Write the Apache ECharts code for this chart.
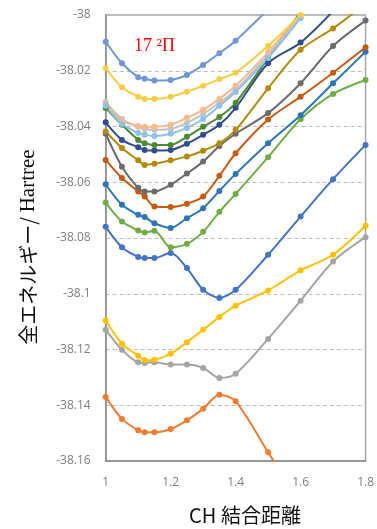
<!DOCTYPE html>
<html>
<head>
<meta charset="utf-8">
<script src="https://cdn.jsdelivr.net/npm/echarts@6/dist/echarts.min.js"></script>
<style>
  html, body { margin: 0; padding: 0; background: #fff; }
  #chart { width: 377px; height: 529px; }
</style>
</head>
<body>
<div id="chart"></div>
<script>
// CH bond length (Å) sampled for every state
const bondLengths = [1.0, 1.05, 1.1, 1.12, 1.15, 1.2, 1.25, 1.3, 1.35, 1.4, 1.5, 1.6, 1.7, 1.8];

// Total energies (Hartree) per electronic state; null where not computed
const stateOrange    = [-38.1370, -38.1449, -38.1490, -38.1497, -38.1497, -38.1485, -38.1454, -38.1413, -38.1362, -38.1386, -38.1569, -38.1750, null, null];
const stateGray      = [-38.1129, -38.1201, -38.1246, -38.1248, -38.1246, -38.1254, -38.1254, -38.1266, -38.1302, -38.1287, -38.1162, -38.1025, -38.0884, -38.0797];
const stateYellow    = [-38.1096, -38.1179, -38.1222, -38.1239, -38.1237, -38.1215, -38.1174, -38.1129, -38.1083, -38.1043, -38.0988, -38.0916, -38.0860, -38.0756];
const stateBlue      = [-38.0760, -38.0833, -38.0868, -38.0872, -38.0872, -38.0854, -38.0908, -38.0986, -38.1015, -38.0986, -38.0860, -38.0723, -38.0589, -38.0466];
const stateGreen     = [-38.0673, -38.0741, -38.0773, -38.0780, -38.0774, -38.0833, -38.0821, -38.0778, -38.0706, -38.0642, -38.0510, -38.0374, -38.0283, -38.0233];
const stateSteel     = [-38.0607, -38.0681, -38.0717, -38.0725, -38.0747, -38.0764, -38.0729, -38.0693, -38.0631, -38.0570, -38.0460, -38.0360, -38.0245, -38.0132];
const stateRust      = [-38.0520, -38.0585, -38.0633, -38.0651, -38.0687, -38.0689, -38.0677, -38.0651, -38.0577, -38.0496, -38.0375, -38.0293, -38.0207, -38.0116];
const stateDarkGray  = [-38.0426, -38.0544, -38.0620, -38.0633, -38.0633, -38.0609, -38.0569, -38.0526, -38.0470, -38.0426, -38.0352, -38.0245, -38.0111, -38.0020];
const stateOchre     = [-38.0418, -38.0477, -38.0521, -38.0538, -38.0534, -38.0521, -38.0508, -38.0487, -38.0460, -38.0412, -38.0263, -38.0125, -38.0048, -37.9960];
const stateNavy      = [-38.0385, -38.0448, -38.0474, -38.0484, -38.0486, -38.0484, -38.0462, -38.0430, -38.0394, -38.0333, -38.0173, -38.0099, -37.9986, null];
const stateDarkGreen = [-38.0334, -38.0394, -38.0448, -38.0460, -38.0466, -38.0466, -38.0437, -38.0401, -38.0366, -38.0315, -38.0154, -37.9989, null, null];
const stateSilver    = [-38.0312, -38.0373, -38.0401, -38.0409, -38.0412, -38.0409, -38.0387, -38.0355, -38.0315, -38.0269, -38.0143, -38.0007, null, null];
const statePeach     = [-38.0319, -38.0380, -38.0398, -38.0401, -38.0401, -38.0394, -38.0369, -38.0340, -38.0301, -38.0254, -38.0133, -37.9996, null, null];
const stateSky       = [-38.0326, -38.0391, -38.0423, -38.0430, -38.0434, -38.0426, -38.0405, -38.0373, -38.0326, -38.0276, -38.0154, -38.0011, null, null];
const stateGold      = [-38.0191, -38.0259, -38.0293, -38.0301, -38.0301, -38.0293, -38.0275, -38.0254, -38.0230, -38.0207, -38.0111, -38.0000, null, null];
const statePi17      = [-38.0096, -38.0173, -38.0223, -38.0229, -38.0235, -38.0233, -38.0215, -38.0179, -38.0137, -38.0092, -37.9980, null, null, null];

// Axis ticks
const xTicks = { min: 1, max: 1.8, step: 0.2 };
const yTicks = { min: -38.16, max: -38, step: 0.02 };

const curves = [
  { data: stateOrange,    color: '#ed7d31' },
  { data: stateGray,      color: '#a5a5a5' },
  { data: stateYellow,    color: '#ffc000' },
  { data: stateBlue,      color: '#4472c4' },
  { data: stateGreen,     color: '#70ad47' },
  { data: stateSteel,     color: '#2e75b6' },
  { data: stateRust,      color: '#c55a11' },
  { data: stateDarkGray,  color: '#6b6b6b' },
  { data: stateOchre,     color: '#b48a0a' },
  { data: stateNavy,      color: '#2f4f8f' },
  { data: stateDarkGreen, color: '#4e8a33' },
  { data: stateSilver,    color: '#c3c3c3' },
  { data: statePeach,     color: '#f4b98f' },
  { data: stateSky,       color: '#8ec0ea' },
  { data: stateGold,      color: '#f7cd45' },
  { data: statePi17,      color: '#6f96d8' }
];

const fmt = v => String(parseFloat(v.toFixed(2)));

const chart = echarts.init(document.getElementById('chart'), null, { renderer: 'canvas' });
chart.setOption({
  animation: false,
  backgroundColor: '#fff',
  grid: {
    left: 105.7, right: 10.3, top: 15, bottom: 68,
    show: true, borderColor: '#a6a6a6', borderWidth: 1.5
  },
  xAxis: {
    type: 'value',
    min: xTicks.min, max: xTicks.max, interval: xTicks.step,
    axisLine: { show: true, lineStyle: { color: '#8c8c8c', width: 1.5 } },
    axisTick: { show: false },
    splitLine: { show: false },
    axisLabel: { color: '#7f7f7f', fontSize: 12, fontFamily: 'Open Sans', margin: 16, formatter: fmt }
  },
  yAxis: {
    type: 'value',
    min: yTicks.min, max: yTicks.max, interval: yTicks.step,
    axisLine: { show: true, lineStyle: { color: '#8c8c8c', width: 1.5 } },
    axisTick: { show: false },
    splitLine: { show: true, lineStyle: { color: '#bdbdbd', type: [4, 3], width: 1.2 } },
    axisLabel: { color: '#7f7f7f', fontSize: 12, fontFamily: 'Open Sans', margin: 15, formatter: fmt }
  },
  series: curves.map(c => ({
    type: 'line',
    data: bondLengths.map((x, i) => [x, c.data[i]]),
    connectNulls: false,
    clip: true,
    smooth: 0.3,
    symbol: 'circle',
    symbolSize: 6,
    lineStyle: { color: c.color, width: 2 },
    itemStyle: { color: c.color },
    emphasis: { disabled: true }
  })),
  graphic: [
    {
      type: 'text', left: 134, top: 37,
      style: {
        text: '17 ²Π', fill: '#ff0000',
        font: '18px "Liberation Serif", "DejaVu Serif", serif'
      }
    },
    {
      type: 'text', x: 28, y: 247, rotation: Math.PI / 2,
      style: {
        text: '{a|全エネルギー/ }{b|Hartree}',
        align: 'center', verticalAlign: 'middle',
        rich: {
          a: { fontFamily: 'Noto Sans CJK JP', fontSize: 20, fill: '#111' },
          b: { fontFamily: 'Liberation Serif', fontSize: 21, fill: '#111' }
        }
      }
    },
    {
      type: 'text', x: 245, y: 515,
      style: {
        text: 'CH 結合距離', fill: '#111',
        align: 'center', verticalAlign: 'middle',
        font: '20px "Noto Sans CJK JP", sans-serif'
      }
    }
  ]
});
</script>
</body>
</html>
